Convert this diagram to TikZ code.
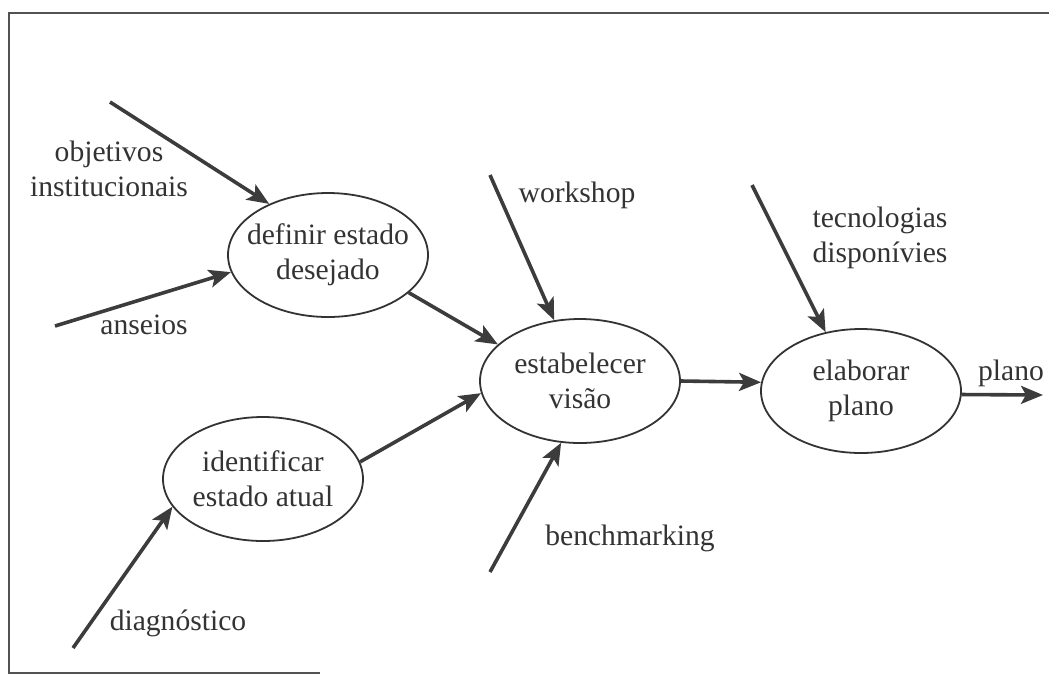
\documentclass[tikz,border=0pt]{standalone}
\usepackage{fontspec}
\setmainfont{Liberation Serif}
\usetikzlibrary{arrows.meta,shapes.geometric}
\definecolor{ink}{HTML}{333333}
\definecolor{arrowgray}{HTML}{3C3C3C}
\begin{document}
\begin{tikzpicture}[x=0.5pt,y=-0.5pt,font=\fontsize{14.8}{17.5}\selectfont,text=ink,
	stage/.style={draw=ink,line width=0.9pt,ellipse,inner sep=0pt,minimum width=100pt,minimum height=62pt},
	flow/.style={arrowgray,line width=1.8pt,-{Stealth[length=11pt,width=9pt,inset=2.5pt]}},
	lbl/.style={align=center,inner sep=0pt}]
		\useasboundingbox (0,0) rectangle (1049,676);
		\draw[ink!85,line width=1pt] (1049,13)--(9,13)--(9,673)--(320,673);
		\node[stage,label={[lbl]center:definir estado\\desejado}] (def) at (328,255) {};
		\node[stage,label={[lbl]center:estabelecer\\visão}] (vis) at (580,381) {};
		\node[stage,label={[lbl]center:identificar\\estado atual}] (ident) at (263,479) {};
		\node[stage,label={[lbl]center:elaborar\\plano}] (elab) at (861,391) {};
		\node[lbl] (obj) at (109,168.5) {objetivos\\institucionais};
		\node[lbl,anchor=base] (ans) at (144,334) {anseios};
		\node[lbl,anchor=base] (ws) at (577,202) {workshop};
		\node[lbl,anchor=base] (diag) at (178,630) {diagnóstico};
		\node[lbl,anchor=base] (bench) at (630,545) {benchmarking};
		\node[lbl] (tec) at (880,237.7) {tecnologias\\disponívies};
		\node[lbl,anchor=base] (pl) at (1011,380) {plano};
		\coordinate (objS) at (110,102);
		\coordinate (ansS) at (55,326);
		\coordinate (wsS) at (490,175);
		\coordinate (diagS) at (73,648);
		\coordinate (benchS) at (490,572);
		\coordinate (tecS) at (752,185);
		\coordinate (plE) at (1043,395);
		\draw[flow] (objS)--(def.139);
		\draw[flow] (ansS)--(def.190);
		\draw[flow] (def.335)--(vis.156);
		\draw[flow] (wsS)--(vis.113);
		\draw[flow] (diagS)--(ident.197);
		\draw[flow] (ident.10)--(vis.187);
		\draw[flow] (benchS)--(vis.253);
		\draw[flow] (vis.east)--(elab.175);
		\draw[flow] (tecS)--(elab.121);
		\draw[flow] (elab.358)--(plE);
	\end{tikzpicture}
\end{document}
